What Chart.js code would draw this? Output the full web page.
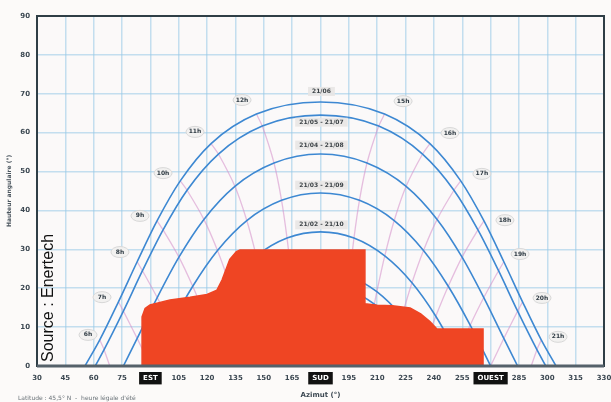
<!DOCTYPE html>
<html><head><meta charset="utf-8">
<script src="https://cdn.jsdelivr.net/npm/chart.js@4"></script>
<style>html,body{margin:0;padding:0;background:#fcfaf9;}canvas{display:block}</style>
</head><body>
<canvas id="c" width="611" height="402"></canvas>
<script>
// ---- Axis ticks ----
const azimuthMin = 30, azimuthMax = 330, azimuthStep = 15;
const altitudeMin = 0, altitudeMax = 90, altitudeStep = 10;
const azimuthNamedTicks = {90: 'EST', 180: 'SUD', 270: 'OUEST'};

// ---- Sun path curves: [azimuth °, altitude °] ----
const curveJune = [[55.4,0],[63.2,6.7],[73.1,16.5],[83.0,26.8],[93.5,37.3],[105.8,47.6],[122.1,57.2],[146.1,64.8],[180,67.9],[213.9,64.8],[237.9,57.2],[254.2,47.6],[266.5,37.3],[277.0,26.8],[286.9,16.5],[296.8,6.7],[304.6,0]];
const curveMayJuly = [[60.8,0],[65.5,4.2],[75.7,14.1],[85.8,24.5],[96.7,35.0],[109.4,45.2],[126.0,54.5],[149.2,61.7],[180,64.5],[210.8,61.7],[234.0,54.5],[250.6,45.2],[263.3,35.0],[274.2,24.5],[284.3,14.1],[294.5,4.2],[299.2,0]];
const curveAprAug = [[75.7,0],[83.0,7.1],[93.6,17.6],[105.1,28.0],[118.3,37.7],[134.7,46.2],[155.4,52.2],[180,54.5],[204.6,52.2],[225.3,46.2],[241.7,37.7],[254.9,28.0],[266.4,17.6],[277.0,7.1],[284.3,0]];
const curveMarSep = [[90,0],[100.8,10.5],[112.4,20.5],[125.5,29.7],[141.0,37.4],[159.4,42.6],[180,44.5],[200.6,42.6],[219.0,37.4],[234.5,29.7],[247.6,20.5],[259.2,10.5],[270,0]];
const curveFebOct = [[104.3,0],[107.7,3.1],[119.0,12.8],[131.6,21.4],[146.0,28.3],[162.3,32.9],[180,34.5],[197.7,32.9],[214.0,28.3],[228.4,21.4],[241.0,12.8],[252.3,3.1],[255.7,0]];
const curveJanNov = [[119.2,0],[125.2,4.9],[137.0,12.8],[150.2,19.1],[164.7,23.1],[180,24.5],[195.3,23.1],[209.8,19.1],[223.0,12.8],[234.8,4.9],[240.8,0]];
const curveDec = [[124.6,0],[127.3,2.2],[138.8,9.9],[151.5,15.9],[165.4,19.7],[180,21.1],[194.6,19.7],[208.5,15.9],[221.2,9.9],[232.7,2.2],[235.4,0]];

// ---- Hour lines (pink) ----
const hourLineAM1 = [[146.1,64.8],[149.2,61.7],[155.4,52.2],[159.4,42.6],[162.3,32.9],[164.7,23.1],[165.4,19.7]];
const hourLineAM2 = [[122.1,57.2],[126.0,54.5],[134.7,46.2],[141.0,37.4],[146.0,28.3],[150.2,19.1],[151.5,15.9]];
const hourLineAM3 = [[105.8,47.6],[109.4,45.2],[118.3,37.7],[125.5,29.7],[131.6,21.4],[137.0,12.8],[138.8,9.9]];
const hourLineAM4 = [[93.5,37.3],[96.7,35.0],[105.1,28.0],[112.4,20.5],[119.0,12.8],[125.2,4.9],[127.3,2.2]];
const hourLineAM5 = [[83.0,26.8],[85.8,24.5],[93.6,17.6],[100.8,10.5],[107.7,3.1],[110.5,0]];
const hourLineAM6 = [[73.1,16.5],[75.7,14.1],[83.0,7.1],[90,0]];
const hourLineAM7 = [[63.2,6.7],[65.5,4.2],[68.5,0]];
const hourLinePM1 = [[213.9,64.8],[210.8,61.7],[204.6,52.2],[200.6,42.6],[197.7,32.9],[195.3,23.1],[194.6,19.7]];
const hourLinePM2 = [[237.9,57.2],[234.0,54.5],[225.3,46.2],[219.0,37.4],[214.0,28.3],[209.8,19.1],[208.5,15.9]];
const hourLinePM3 = [[254.2,47.6],[250.6,45.2],[241.7,37.7],[234.5,29.7],[228.4,21.4],[223.0,12.8],[221.2,9.9]];
const hourLinePM4 = [[266.5,37.3],[263.3,35.0],[254.9,28.0],[247.6,20.5],[241.0,12.8],[234.8,4.9],[232.7,2.2]];
const hourLinePM5 = [[277.0,26.8],[274.2,24.5],[266.4,17.6],[259.2,10.5],[252.3,3.1],[249.5,0]];
const hourLinePM6 = [[286.9,16.5],[284.3,14.1],[277.0,7.1],[270,0]];
const hourLinePM7 = [[296.8,6.7],[294.5,4.2],[291.5,0]];

// ---- Obstacle mask (orange) ----
const obstacleMask = [[85.6,0],[85.6,12.6],[87.2,14.8],[89.8,15.7],[100.4,17.0],[111.0,17.7],[120.0,18.4],[125.2,19.5],[127.9,22.1],[132.0,27.4],[135.5,29.4],[137.4,29.8],[203.5,29.8],[203.5,16.0],[210.0,15.6],[218.0,15.5],[227.4,14.9],[233.0,13.4],[237.9,11.4],[241.6,9.5],[266.0,9.5],[266.0,0]];

// ---- Labels ----
const dateLabelTexts = ['21/06','21/05 - 21/07','21/04 - 21/08','21/03 - 21/09','21/02 - 21/10'];
const dateLabelAltitudes = [70.6, 62.7, 56.8, 46.5, 36.3];
const hourLabelTexts = ['6h','7h','8h','9h','10h','11h','12h','15h','16h','17h','18h','19h','20h','21h'];
const hourLabelAzimuths = [57.0,64.4,73.9,84.5,96.7,113.6,138.5,223.7,248.5,265.4,277.6,285.6,297.2,305.7];
const hourLabelAltitudes = [8.0,17.7,29.3,38.6,49.6,60.2,68.4,68.1,59.9,49.4,37.5,28.8,17.5,7.5];

const toXY = arr => arr.map(p => ({x: p[0], y: p[1]}));
const sunCurves = [curveJune, curveMayJuly, curveAprAug, curveMarSep, curveFebOct, curveJanNov, curveDec];
const hourLines = [hourLineAM1,hourLineAM2,hourLineAM3,hourLineAM4,hourLineAM5,hourLineAM6,hourLineAM7,
                   hourLinePM1,hourLinePM2,hourLinePM3,hourLinePM4,hourLinePM5,hourLinePM6,hourLinePM7];

const datasets = [];
datasets.push({data: toXY(obstacleMask), borderColor: '#ee4424', backgroundColor: '#ef4523', borderWidth: 1.5,
  fill: 'origin', tension: 0, pointRadius: 0, order: 0});
sunCurves.forEach(c => datasets.push({data: toXY(c), borderColor: '#3d88d2', borderWidth: 1.6, fill: false,
  cubicInterpolationMode: 'monotone', pointRadius: 0, order: 1}));
hourLines.forEach(c => datasets.push({data: toXY(c), borderColor: 'rgba(212,140,200,0.55)', borderWidth: 1.3,
  fill: false, tension: 0.2, pointRadius: 0, order: 2}));

const overlay = {
  id: 'overlay',
  beforeDraw(chart) {
    const {ctx, chartArea: a} = chart;
    ctx.save();
    ctx.fillStyle = '#fbf9f9';
    ctx.fillRect(a.left, a.top, a.right - a.left, a.bottom - a.top);
    ctx.restore();
  },
  afterDatasetsDraw(chart) {
    const {ctx, chartArea: a, scales: {x, y}} = chart;
    ctx.save();
    // date labels
    ctx.font = 'bold 6px "DejaVu Sans"';
    ctx.textAlign = 'center'; ctx.textBaseline = 'middle';
    dateLabelTexts.forEach((t, i) => {
      const px = x.getPixelForValue(180.5), py = y.getPixelForValue(dateLabelAltitudes[i]);
      const w = ctx.measureText(t).width + 8;
      ctx.fillStyle = 'rgba(232,230,228,0.9)';
      ctx.fillRect(px - w/2, py - 4.5, w, 9);
      ctx.fillStyle = '#3e4448';
      ctx.fillText(t, px, py);
    });
    // hour labels
    hourLabelTexts.forEach((t, i) => {
      const px = x.getPixelForValue(hourLabelAzimuths[i]), py = y.getPixelForValue(hourLabelAltitudes[i]);
      ctx.beginPath();
      ctx.ellipse(px, py, 9, 5.5, 0, 0, Math.PI * 2);
      ctx.fillStyle = '#f2f1f0'; ctx.fill();
      ctx.strokeStyle = '#d8d8d8'; ctx.lineWidth = 1; ctx.stroke();
      ctx.fillStyle = '#2f3b44';
      ctx.fillText(t, px, py);
    });
    // frame
    ctx.strokeStyle = '#2f3e46'; ctx.lineWidth = 2;
    ctx.strokeRect(a.left, a.top, a.right - a.left, a.bottom - a.top);
    ctx.strokeStyle = '#55616a'; ctx.lineWidth = 3;
    ctx.beginPath(); ctx.moveTo(a.left, a.bottom); ctx.lineTo(a.right, a.bottom); ctx.stroke();
    // source text
    ctx.translate(53, 362);
    ctx.rotate(-Math.PI / 2);
    ctx.font = '16px "Liberation Sans", Arial, sans-serif';
    ctx.fillStyle = '#111';
    ctx.textAlign = 'left'; ctx.textBaseline = 'alphabetic';
    ctx.fillText('Source : Enertech', 0, 0);
    ctx.restore();
    // caption
    ctx.save();
    ctx.font = '6px "DejaVu Sans"';
    ctx.fillStyle = '#6a7278';
    ctx.textAlign = 'left'; ctx.textBaseline = 'middle';
    ctx.fillText('Latitude : 45,5° N  -  heure légale d\'été', 18, 398);
    ctx.restore();
  }
};

new Chart(document.getElementById('c'), {
  type: 'line',
  data: {datasets},
  plugins: [overlay],
  options: {
    responsive: false, animation: false, devicePixelRatio: 1,
    layout: {padding: {top: 16, right: 7, left: 0, bottom: 0}},
    plugins: {legend: {display: false}, tooltip: {enabled: false}},
    scales: {
      x: {
        type: 'linear', min: azimuthMin, max: azimuthMax,
        afterFit(s) { s.height = 36; s.paddingRight = 0; s.paddingLeft = 0; },
        border: {display: false},
        grid: {color: 'rgba(150,200,232,0.55)', lineWidth: 1.5, drawTicks: false},
        ticks: {
          stepSize: azimuthStep, autoSkip: false, maxRotation: 0, padding: 8,
          font: {size: 7, weight: 'bold', family: '"DejaVu Sans"'},
          color: c => azimuthNamedTicks[c.tick && c.tick.value] ? '#ffffff' : '#3c4852',
          showLabelBackdrop: c => !!azimuthNamedTicks[c.tick && c.tick.value],
          backdropColor: '#111111', backdropPadding: {x: 4, y: 2},
          callback: v => azimuthNamedTicks[v] || String(v)
        },
        title: {display: true, text: 'Azimut (°)', color: '#3c4852',
          font: {size: 7, weight: 'bold', family: '"DejaVu Sans"'}, padding: {top: 0, bottom: 3}}
      },
      y: {
        min: altitudeMin, max: altitudeMax,
        afterFit(s) { s.width = 37; s.paddingTop = 0; s.paddingBottom = 0; },
        border: {display: false},
        grid: {color: 'rgba(150,200,232,0.55)', lineWidth: 1.5, drawTicks: false},
        ticks: {stepSize: altitudeStep, padding: 7, color: '#3c4852',
          font: {size: 7, weight: 'bold', family: '"DejaVu Sans"'}},
        title: {display: true, text: 'Hauteur angulaire (°)', color: '#4a555e',
          font: {size: 6, weight: 'bold', family: '"DejaVu Sans"'}, padding: {top: 6, bottom: 2}}
      }
    }
  }
});
</script>
</body></html>
